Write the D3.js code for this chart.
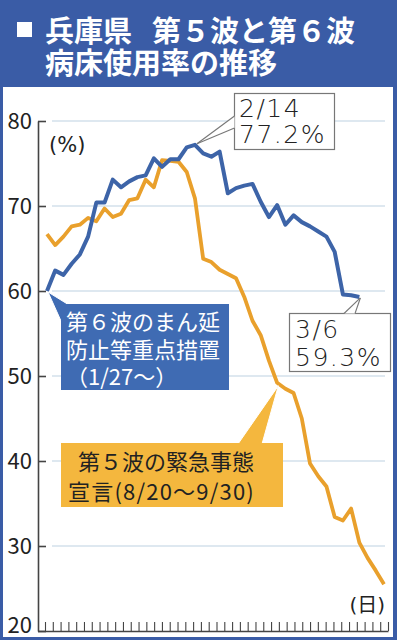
<!DOCTYPE html>
<html lang="ja">
<head>
<meta charset="utf-8">
<script src="https://cdn.jsdelivr.net/npm/d3@7/dist/d3.min.js"></script>
<style>
  html, body { margin: 0; padding: 0; background: #fff; }
  svg { display: block; }
</style>
</head>
<body>
<div id="chart"></div>
<script>
// Hyogo bed occupancy (%), one value per day
// 5th wave: 8/20 -> 9/30, 6th wave: 1/27 -> 3/6
const wave5 = [66.7, 65.4, 66.4, 67.6, 67.8, 68.6, 68.2, 69.7, 68.7, 69.1,
  70.7, 70.9, 73.1, 72.2, 75.4, 75.3, 75.2, 74.0, 70.9, 63.8,
  63.4, 62.5, 62.0, 61.5, 59.3, 56.5, 54.8, 51.8, 49.2, 48.5,
  48.0, 45.0, 39.7, 38.2, 37.0, 33.4, 33.0, 34.4, 30.4, 28.6,
  27.1, 25.5];
const wave6 = [60.0, 62.4, 61.9, 63.2, 64.3, 66.4, 70.4, 70.4, 73.1, 72.2,
  72.9, 73.4, 73.6, 75.6, 74.6, 75.5, 75.5, 76.9, 77.2, 76.2,
  75.8, 76.4, 71.5, 72.1, 72.4, 72.6, 70.5, 68.7, 70.1, 67.8,
  68.9, 68.1, 67.6, 67.0, 66.4, 64.6, 59.6, 59.5, 59.3];
const yTicks = [20, 30, 40, 50, 60, 70, 80];
const dayTickCount = 45;

const titleLine1 = ["兵庫県", "第５波と第６波"];
const titleLine2 = "病床使用率の推移";
const wave6Note = ["第６波のまん延", "防止等重点措置", "（1/27～）"];
const wave5Note = ["第５波の緊急事態", "宣言(8/20～9/30)"];
const peakNote = ["2/14", "77.2%"];
const lastNote = ["3/6", "59.3%"];

const width = 397;
const height = 640;
const frameColor = "#3a5ca6";
const blueLine = "#3d64a8";
const orangeLine = "#e9a02c";
const jp = "'Noto Sans CJK JP', 'Noto Sans', sans-serif";
const num = "'DejaVu Sans', 'Noto Sans CJK JP', sans-serif";

const svg = d3.select("#chart")
  .append("svg")
  .attr("width", width)
  .attr("height", height);

// frame + title band
svg.append("rect").attr("width", width).attr("height", height).attr("fill", frameColor);
svg.append("rect").attr("x", 3).attr("y", 87).attr("width", 390).attr("height", 550).attr("fill", "#fff");

svg.append("rect").attr("x", 17).attr("y", 22).attr("width", 15).attr("height", 15).attr("fill", "#fff");
const title = svg.append("text")
  .attr("font-family", jp)
  .attr("font-weight", 700)
  .attr("font-size", 29)
  .attr("fill", "#fff");
title.append("tspan").attr("x", 45).attr("y", 42).text(titleLine1[0]);
title.append("tspan").attr("x", 152).attr("y", 42).text(titleLine1[1]);
title.append("tspan").attr("x", 45).attr("y", 74).text(titleLine2);

// scales
const axisX = 38;
const y = d3.scaleLinear().domain([20, 80]).range([631, 121]);
const x5 = d3.scaleLinear().domain([0, wave5.length - 1]).range([47, 384]);
const x6 = d3.scaleLinear().domain([0, wave5.length - 1]).range([47, 384]); // same day spacing
const xt = d3.scaleLinear().domain([0, dayTickCount - 1]).range([45, 388]);

// gridlines
svg.append("g")
  .selectAll("line")
  .data(yTicks.filter((d) => d > 20))
  .join("line")
  .attr("x1", 52)
  .attr("x2", 385)
  .attr("y1", (d) => y(d))
  .attr("y2", (d) => y(d))
  .attr("stroke", "#bdd1e2")
  .attr("stroke-width", 1.2);

// y axis (ticks point into the plot)
const yAxis = svg.append("g")
  .attr("transform", `translate(${axisX},0)`)
  .call(d3.axisLeft(y).tickValues(yTicks).tickSize(-8).tickSizeOuter(0).tickPadding(6));
yAxis.attr("font-family", jp).attr("font-size", 22);
yAxis.select(".domain").attr("stroke", "#444").attr("stroke-width", 1.6);
yAxis.selectAll(".tick line").attr("stroke", "#444").attr("stroke-width", 1.6);
yAxis.selectAll(".tick text").attr("fill", "#222")
  .attr("dy", (d) => (d === 20 ? "0.05em" : "0.34em"));

// x axis: one tick per day, no labels
const xAxis = svg.append("g")
  .attr("transform", `translate(0,${y(20)})`)
  .call(d3.axisBottom(xt).tickValues(d3.range(dayTickCount)).tickSize(-9).tickSizeOuter(0).tickFormat(""));
xAxis.select(".domain").remove();
xAxis.selectAll(".tick line").attr("stroke", "#444").attr("stroke-width", 1.1);
svg.append("line")
  .attr("x1", axisX).attr("x2", 388.5)
  .attr("y1", y(20) + 0.5).attr("y2", y(20) + 0.5)
  .attr("stroke", "#444").attr("stroke-width", 1.6);

svg.append("text").attr("x", 49).attr("y", 152)
  .attr("font-family", num).attr("font-size", 21).attr("fill", "#222")
  .text("(%)");
svg.append("text").attr("x", 385).attr("y", 612)
  .attr("text-anchor", "end")
  .attr("font-family", num).attr("font-size", 20).attr("fill", "#222")
  .text("(日)");

// lines
svg.append("path")
  .datum(wave5)
  .attr("d", d3.line().x((d, i) => x5(i)).y((d) => y(d)))
  .attr("fill", "none")
  .attr("stroke", orangeLine)
  .attr("stroke-width", 3.8)
  .attr("stroke-linejoin", "round");

svg.append("path")
  .datum(wave6)
  .attr("d", d3.line().x((d, i) => x6(i)).y((d) => y(d)))
  .attr("fill", "none")
  .attr("stroke", blueLine)
  .attr("stroke-width", 4)
  .attr("stroke-linejoin", "round");

// 6th wave note (blue box)
const start6 = [x6(0), y(wave6[0])];
svg.append("polygon")
  .attr("points", `${start6[0] + 1},${start6[1] + 1} 69,305 61,321`)
  .attr("fill", "#3f6bb3").attr("stroke", "#fff").attr("stroke-width", 1);
svg.append("rect").attr("x", 61).attr("y", 304).attr("width", 168).attr("height", 86).attr("fill", "#3f6bb3");
svg.append("text")
  .attr("font-family", jp).attr("font-size", 22).attr("fill", "#fff")
  .selectAll("tspan")
  .data(wave6Note)
  .join("tspan")
  .attr("x", 66)
  .attr("y", (d, i) => 330 + i * 27.5)
  .text((d) => d);

// 5th wave note (orange box)
const pin5 = [x5(29) - 7, y(wave5[29]) - 3];
svg.append("polygon")
  .attr("points", `238,444 ${pin5[0]},${pin5[1]} 262,444`)
  .attr("fill", "#f4b73e").attr("stroke", "#fff").attr("stroke-width", 1);
svg.append("rect").attr("x", 61).attr("y", 443).attr("width", 222).attr("height", 64).attr("fill", "#f4b73e");
const note5 = svg.append("text")
  .attr("font-family", jp).attr("font-size", 22).attr("fill", "#222");
note5.append("tspan").attr("x", 78).attr("y", 470).text(wave5Note[0]);
note5.append("tspan").attr("x", 68).attr("y", 500).attr("letter-spacing", 1.2).text(wave5Note[1]);

// value callouts
function callout(box, tip, baseA, baseB, lines, textX, baselines) {
  svg.append("rect")
    .attr("x", box[0]).attr("y", box[1]).attr("width", box[2]).attr("height", box[3])
    .attr("fill", "#fff").attr("stroke", "#777").attr("stroke-width", 1.2);
  svg.append("polygon")
    .attr("points", `${tip[0]},${tip[1]} ${baseA[0]},${baseA[1]} ${baseB[0]},${baseB[1]}`)
    .attr("fill", "#fff");
  [baseA, baseB].forEach((b) => {
    svg.append("line")
      .attr("x1", tip[0]).attr("y1", tip[1]).attr("x2", b[0]).attr("y2", b[1])
      .attr("stroke", "#777").attr("stroke-width", 1.1);
  });
  svg.append("text")
    .attr("font-family", num).attr("font-weight", 200).attr("font-size", 25)
    .attr("fill", "#222").attr("letter-spacing", 1.5)
    .selectAll("tspan")
    .data(lines)
    .join("tspan")
    .attr("x", textX)
    .attr("y", (d, i) => baselines[i])
    .text((d) => d);
}

callout([234.5, 93.5, 100, 56], [x6(18) + 2, y(wave6[18]) - 1], [234.5, 116], [234.5, 128],
  peakNote, 239, [117, 143]);
callout([289.5, 313.5, 101, 58], [x6(38) + 1, y(wave6[38]) + 1], [344, 313.5], [355, 313.5],
  lastNote, 295, [338, 366]);
</script>
</body>
</html>
